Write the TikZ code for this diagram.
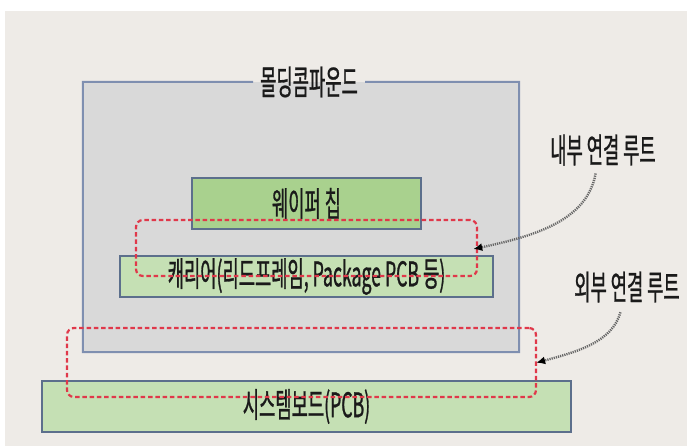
\documentclass[tikz,border=0pt]{standalone}
\usepackage{fontspec}
\usetikzlibrary{arrows.meta}
\newfontfamily\krfont[FakeStretch=0.52, FakeBold=0.8]{Noto Sans CJK KR}
\definecolor{bgc}{HTML}{EEEBE7}
\definecolor{moldfill}{HTML}{D9D9D9}
\definecolor{moldline}{HTML}{7F8FB0}
\definecolor{waferfill}{HTML}{A9D18E}
\definecolor{carrierfill}{HTML}{C5E0B4}
\definecolor{boxline}{HTML}{5C6F8C}
\definecolor{routec}{HTML}{E0384A}
\definecolor{arrowc}{HTML}{666666}
\definecolor{txt}{HTML}{1A1A1A}
\tikzset{
  lbl/.style={font=\krfont\fontsize{34}{36}\selectfont, text=txt, inner sep=0pt},
  greenbox/.style={draw=boxline, line width=2pt, inner sep=0pt, lbl},
  routebox/.style={draw=routec, line width=2.2pt, dash pattern=on 4.5pt off 2.8pt, rounded corners=7pt, inner sep=0pt},
  conn/.style={draw=arrowc, line width=2.4pt, dash pattern=on 1.2pt off 1pt, -{Latex[length=9pt,width=8pt,color=black]}}
}
\begin{document}
\begin{tikzpicture}[x=1pt,y=-1pt]
\useasboundingbox (0,0) rectangle (687,446);
\fill[white] (0,0) rectangle (687,446);
\fill[bgc] (5,11) rectangle (687,446);
% molding compound
\node[fill=moldfill, minimum width=436pt, minimum height=270pt, inner sep=0pt] (mold) at (301,217) {};
\node[lbl] (moldtitle) at (309,82) {몰딩콤파운드};
\draw[moldline, line width=2pt] (253,82) -- (mold.north west) -- (mold.south west) -- (mold.south east) -- (mold.north east) -- (365,82);
% wafer chip
\node[greenbox, fill=waferfill, minimum width=229pt, minimum height=51pt] (wafer) at (306.5,203.5) {웨이퍼 칩};
% carrier
\node[greenbox, fill=carrierfill, minimum width=373pt, minimum height=41pt] (carrier) at (306.5,276.5) {\raisebox{-2pt}{캐리어(리드프레임, Package PCB 등)}};
% system board
\node[greenbox, fill=carrierfill, minimum width=529pt, minimum height=51pt] (board) at (306.5,406.5) {\raisebox{-1pt}{시스템보드(PCB)}};
% routes
\node[routebox, minimum width=341pt, minimum height=56pt] (inner) at (306.5,248) {};
\node[routebox, minimum width=469pt, minimum height=69pt] (outer) at (301.5,362.5) {};
% labels
\node[lbl] (inlabel) at (603,150) {내부 연결 루트};
\node[lbl] (outlabel) at (627,287) {외부 연결 루트};
\draw[conn, shorten <=8pt, shorten >=-5pt] (inlabel.south) ++(-6,0) coordinate (ins) (ins) to[out=-100,in=12] (inner.east);
\draw[conn, shorten <=10pt, shorten >=-1pt] (outlabel.south) ++(-4,0) coordinate (outs) (outs) to[out=-105,in=15] (outer.east);
\end{tikzpicture}
\end{document}
